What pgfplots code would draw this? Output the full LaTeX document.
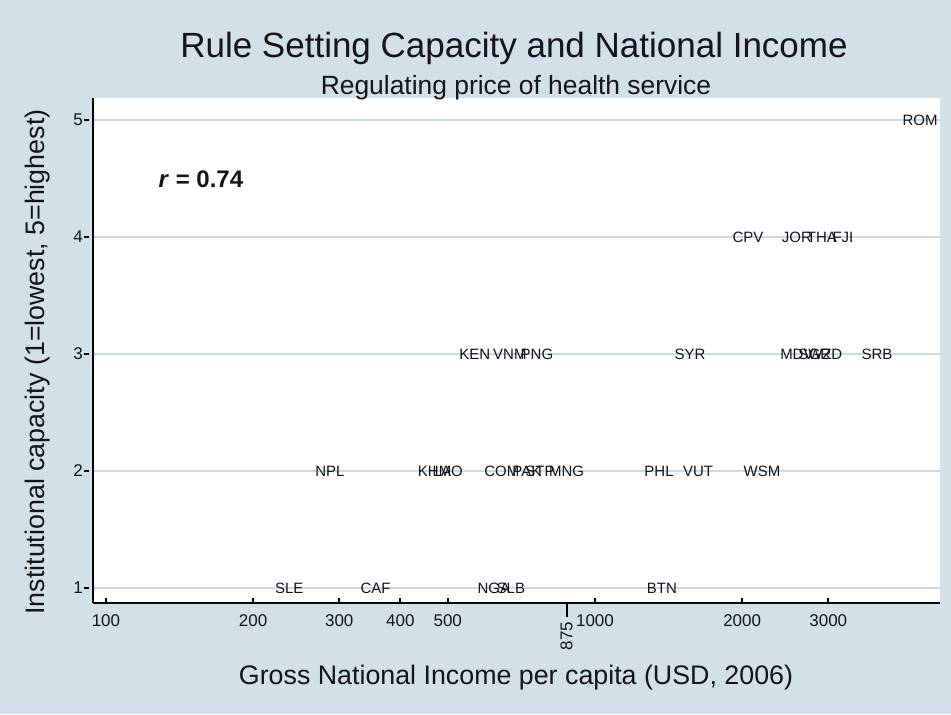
\documentclass[border=0pt]{standalone}
\usepackage{pgfplots}
\pgfplotsset{compat=1.18}
\usepackage{fontspec}
\setmainfont{Liberation Sans}
\definecolor{bgc}{RGB}{209,225,231}
\definecolor{gridc}{RGB}{200,219,227}
\definecolor{txt}{RGB}{20,20,25}
\begin{document}
\begin{tikzpicture}
\fill[bgc] (0pt,0pt) rectangle (475.5pt,357pt);
\begin{axis}[
  at={(46.5pt,55.5pt)}, anchor=south west,
  scale only axis, width=423.5pt, height=252.5pt,
  xmode=log, log basis x=10,
  xmin=94.1, xmax=5077, ymin=0.872, ymax=5.188,
  axis background/.style={fill=white},
  axis x line*=bottom, axis y line*=left,
  axis line style={-, line width=1pt, black},
  xminorticks=false,
  xtick={100,200,300,400,500,1000,2000,3000},
  xticklabels={100,200,300,400,500,1000,2000,3000},
  ytick={1,2,3,4,5},
  tick align=inside,
  major tick length=2.5pt,
  tick style={line width=1pt, black},
  y tick style={xshift=-4.5pt},
  y tick label style={xshift=-1.5pt},
  x tick label style={yshift=-2.5pt},
  extra x ticks={875}, extra x tick labels={875},
  extra x tick style={major tick length=7pt, tick style={yshift=-7pt}, xticklabel style={rotate=90, anchor=east, xshift=-3.5pt}},
  ymajorgrids, grid style={gridc, line width=1.2pt},
  /pgf/number format/assume math mode=true,
  ticklabel style={font=\fontsize{8.5}{9}\selectfont, text=txt},
  clip=false,
]
\addplot[draw=none, nodes near coords, point meta=explicit symbolic,
  every node near coord/.style={anchor=center, inner sep=0pt, text=txt, font=\fontsize{7.5}{8}\selectfont}]
  table[meta=lab] {
x y lab
4620 5 ROM
2056 4 CPV
2588 4 JOR
2912 4 THA
3215 4 FJI
568 3 KEN
670 3 VNM
761 3 PNG
1565 3 SYR
2588 3 MDV
2818 3 SWZ
2960 3 GRD
3774 3 SRB
287 2 NPL
470 2 KHM
500 2 LAO
645 2 COM
726 2 PAK
772 2 STP
875 2 MNG
1352 2 PHL
1625 2 VUT
2196 2 WSM
237 1 SLE
356 1 CAF
621 1 NGA
673 1 SLB
1371 1 BTN
};
\node[anchor=west, text=txt, font=\fontsize{12}{14}\selectfont\bfseries] at (axis cs:124,4.49) {\textit{r} = 0.74};
\end{axis}
\node[text=txt, font=\fontsize{17.5}{20}\selectfont] at (257pt,333pt) {Rule Setting Capacity and National Income};
\node[text=txt, font=\fontsize{13.2}{15}\selectfont] at (258pt,313pt) {Regulating price of health service};
\node[text=txt, font=\fontsize{13.4}{15}\selectfont] at (258pt,18pt) {Gross National Income per capita (USD, 2006)};
\node[text=txt, rotate=90, font=\fontsize{13.4}{15}\selectfont] at (19pt,176pt) {Institutional capacity (1=lowest, 5=highest)};
\pgfresetboundingbox
\path[use as bounding box] (0pt,0pt) rectangle (475.5pt,357pt);
\end{tikzpicture}
\end{document}
